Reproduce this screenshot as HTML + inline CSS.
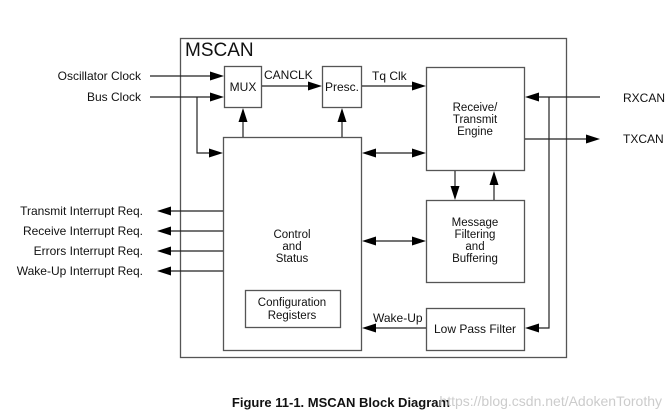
<!DOCTYPE html>
<html><head><style>
html,body{margin:0;padding:0;background:#fff;}
svg{display:block;}
text{font-family:"Liberation Sans",Arial,sans-serif;fill:#111;}
</style></head><body>
<svg width="668" height="418" viewBox="0 0 668 418" xmlns="http://www.w3.org/2000/svg">
<g fill="none" stroke="#555" stroke-width="1.3">
<rect x="180.5" y="38.5" width="386" height="319"/>
<rect x="224.5" y="66.5" width="37" height="41"/>
<rect x="322.5" y="66.5" width="39" height="41"/>
<rect x="426.5" y="67.5" width="98" height="103"/>
<rect x="426.5" y="200.5" width="98" height="82"/>
<rect x="426.5" y="308.5" width="98" height="42"/>
<rect x="223.5" y="137.5" width="138" height="213"/>
<rect x="245.5" y="290.5" width="95" height="37"/>
</g>
<g stroke="#222" stroke-width="1.2" fill="none">
<line x1="150" y1="76" x2="214" y2="76"/>
<line x1="150" y1="97" x2="214" y2="97"/>
<polyline points="197,97 197,153 213,153"/>
<line x1="262" y1="86" x2="312" y2="86"/>
<line x1="362" y1="86" x2="416" y2="86"/>
<line x1="243" y1="137" x2="243" y2="118"/>
<line x1="342" y1="137" x2="342" y2="118"/>
<line x1="372" y1="153" x2="416" y2="153"/>
<line x1="372" y1="241" x2="416" y2="241"/>
<line x1="455" y1="171" x2="455" y2="188"/>
<line x1="494" y1="200" x2="494" y2="182"/>
<line x1="426" y1="328" x2="372" y2="328"/>
<line x1="600" y1="97" x2="536" y2="97"/>
<polyline points="549,97 549,328 536,328"/>
<line x1="525" y1="139" x2="590" y2="139"/>
<line x1="223" y1="211" x2="170" y2="211"/>
<line x1="223" y1="231" x2="170" y2="231"/>
<line x1="223" y1="251" x2="170" y2="251"/>
<line x1="223" y1="271" x2="170" y2="271"/>
</g>
<g fill="#000">
<polygon points="224,76 210,71.5 210,80.5"/>
<polygon points="224,97 210,92.5 210,101.5"/>
<polygon points="223,153 209,148.5 209,157.5"/>
<polygon points="322,86 308,81.5 308,90.5"/>
<polygon points="426,86 412,81.5 412,90.5"/>
<polygon points="243,108 238.5,122 247.5,122"/>
<polygon points="342,108 337.5,122 346.5,122"/>
<polygon points="362,153 376,148.5 376,157.5"/>
<polygon points="426,153 412,148.5 412,157.5"/>
<polygon points="362,241 376,236.5 376,245.5"/>
<polygon points="426,241 412,236.5 412,245.5"/>
<polygon points="455,200 450.5,186 459.5,186"/>
<polygon points="494,171 489.5,185 498.5,185"/>
<polygon points="362,328 376,323.5 376,332.5"/>
<polygon points="525,97 539,92.5 539,101.5"/>
<polygon points="525,328 539,323.5 539,332.5"/>
<polygon points="600,139 586,134.5 586,143.5"/>
<polygon points="157,211 171,206.5 171,215.5"/>
<polygon points="157,231 171,226.5 171,235.5"/>
<polygon points="157,251 171,246.5 171,255.5"/>
<polygon points="157,271 171,266.5 171,275.5"/>
</g>
<text x="185" y="56" font-size="19">MSCAN</text>
<g font-size="12">
<text x="141" y="80" text-anchor="end">Oscillator Clock</text>
<text x="141" y="101" text-anchor="end">Bus Clock</text>
<text x="243" y="91" text-anchor="middle">MUX</text>
<text x="264" y="79">CANCLK</text>
<text x="342" y="91" text-anchor="middle">Presc.</text>
<text x="372" y="80">Tq Clk</text>
<text x="623" y="102">RXCAN</text>
<text x="623" y="143">TXCAN</text>
<text x="143" y="215" text-anchor="end">Transmit Interrupt Req.</text>
<text x="143" y="235" text-anchor="end">Receive Interrupt Req.</text>
<text x="143" y="255" text-anchor="end">Errors Interrupt Req.</text>
<text x="143" y="275" text-anchor="end">Wake-Up Interrupt Req.</text>
<text x="373" y="322">Wake-Up</text>
<text x="475" y="333" text-anchor="middle">Low Pass Filter</text>
</g>
<g font-size="11.5">
<text x="475" y="111" text-anchor="middle">Receive/</text>
<text x="475" y="123" text-anchor="middle">Transmit</text>
<text x="475" y="135" text-anchor="middle">Engine</text>
<text x="475" y="226" text-anchor="middle">Message</text>
<text x="475" y="238" text-anchor="middle">Filtering</text>
<text x="475" y="250" text-anchor="middle">and</text>
<text x="475" y="262" text-anchor="middle">Buffering</text>
<text x="292" y="238" text-anchor="middle">Control</text>
<text x="292" y="250" text-anchor="middle">and</text>
<text x="292" y="262" text-anchor="middle">Status</text>
<text x="292" y="306" text-anchor="middle">Configuration</text>
<text x="292" y="319" text-anchor="middle">Registers</text>
</g>
<text x="341" y="407" font-size="13" font-weight="bold" text-anchor="middle">Figure 11-1. MSCAN Block Diagram</text>
<text x="662" y="406" font-size="14" text-anchor="end" style="fill:#ccc">https://blog.csdn.net/AdokenTorothy</text>
</svg>
</body></html>
